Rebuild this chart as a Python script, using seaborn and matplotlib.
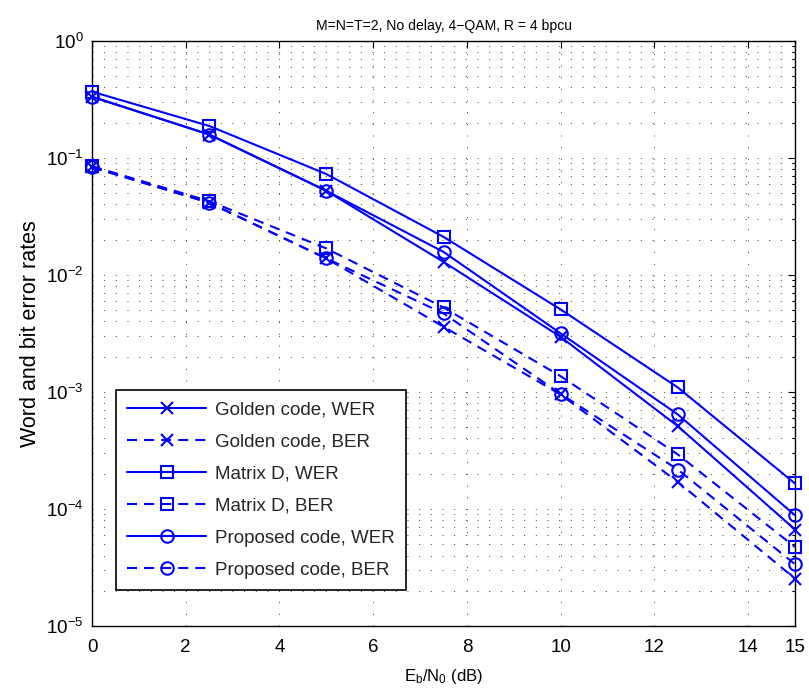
import numpy as np
import pandas as pd
import matplotlib
matplotlib.use("Agg")
import matplotlib.pyplot as plt
from matplotlib.ticker import LogLocator, FixedLocator, NullFormatter
import seaborn as sns

# ---- data ----
snr_db = [0, 2.5, 5, 7.5, 10, 12.5, 15]
golden_wer = [0.332, 0.158, 0.0522, 0.0129, 0.00295, 5.09e-4, 6.67e-5]
golden_ber = [0.083, 0.0413, 0.0138, 0.0036, 0.00095, 1.70e-4, 2.54e-5]
matrixd_wer = [0.367, 0.187, 0.0726, 0.0211, 0.00506, 0.00109, 1.65e-4]
matrixd_ber = [0.0847, 0.0426, 0.0168, 0.00526, 0.00136, 2.92e-4, 4.73e-5]
proposed_wer = [0.332, 0.158, 0.0522, 0.0157, 0.00316, 6.41e-4, 8.83e-5]
proposed_ber = [0.083, 0.0413, 0.0138, 0.00468, 0.00096, 2.17e-4, 3.37e-5]

series_labels = ["Golden code, WER", "Golden code, BER", "Matrix D, WER",
                 "Matrix D, BER", "Proposed code, WER", "Proposed code, BER"]
series_values = [golden_wer, golden_ber, matrixd_wer, matrixd_ber, proposed_wer, proposed_ber]
xtick_values = [0, 2, 4, 6, 8, 10, 12, 14, 15]
title_text = "M=N=T=2, No delay, 4\u2212QAM, R = 4 bpcu"
xlabel_text = r"E$_\mathregular{b}$/N$_\mathregular{0}$ (dB)"
ylabel_text = "Word and bit error rates"

sns.set_theme(style="white")

fam = "Liberation Sans"
plt.rcParams["font.family"] = [fam, "DejaVu Sans"]
plt.rcParams["mathtext.fontset"] = "custom"
plt.rcParams["mathtext.rm"] = fam
plt.rcParams["mathtext.it"] = fam
plt.rcParams["mathtext.bf"] = fam
plt.rcParams["mathtext.sf"] = fam
plt.rcParams["axes.unicode_minus"] = True

fig = plt.figure(figsize=(8.09, 7.0), dpi=100)
fig.patch.set_facecolor("white")
ax = fig.add_axes([92 / 809, 1 - 626 / 700, (795 - 92) / 809, (626 - 40.7) / 700])

markers = ["x", "x", "s", "s", "o", "o"]
msizes = [8, 8, 8.5, 8.5, 9, 9]
dash_style = (0, (4.8, 3.4))

for lab, vals, mk, ms in zip(series_labels, series_values, markers, msizes):
    df = pd.DataFrame({"snr": snr_db, "err": vals})
    ls = "-" if "WER" in lab else dash_style
    sns.lineplot(data=df, x="snr", y="err", ax=ax, color=(0, 0, 1), linewidth=1.5,
                 linestyle=ls, marker=mk, markersize=ms, markerfacecolor="none",
                 markeredgecolor=(0, 0, 1), markeredgewidth=1.5, label=lab,
                 estimator=None, sort=False, clip_on=False, zorder=3)

ax.set_yscale("log")
ax.set_xlim(0, 15)
ax.set_ylim(1e-5, 1)
ax.xaxis.set_major_locator(FixedLocator(xtick_values))
ax.set_xticklabels([str(v) for v in xtick_values])
ax.yaxis.set_major_locator(LogLocator(base=10, numticks=10))
ax.yaxis.set_minor_locator(LogLocator(base=10, subs=np.arange(2, 10), numticks=20))
ax.yaxis.set_minor_formatter(NullFormatter())

grid_ls = (0, (1, 11))
ax.grid(True, which="major", axis="both", color="0.25", linestyle=grid_ls, linewidth=0.7)
ax.grid(True, which="minor", axis="y", color="0.25", linestyle=grid_ls, linewidth=0.7)
ax.set_axisbelow(True)

for sp in ax.spines.values():
    sp.set_color("black")
    sp.set_linewidth(1.0)
    sp.set_visible(True)

ax.tick_params(which="both", direction="in", top=True, right=True, colors="black",
               labelsize=13.5, width=0.8)
ax.tick_params(which="major", length=5)
ax.tick_params(axis="x", which="major", pad=9)
ax.tick_params(axis="y", which="major", pad=6)
ax.tick_params(which="minor", length=2.5)

ax.set_title(title_text, fontsize=10.1, pad=8, color="black")
ax.set_xlabel(xlabel_text, fontsize=12, labelpad=8, color="black")
ax.set_ylabel(ylabel_text, fontsize=15.5, labelpad=4, color="black")

leg = ax.legend(loc="lower left", bbox_to_anchor=(0.034, 0.0615), borderaxespad=0,
                fontsize=13.5, handlelength=4.2, handletextpad=0.5,
                labelspacing=0.8, borderpad=0.6, fancybox=False, framealpha=1,
                edgecolor="black")
leg.get_frame().set_linewidth(1.2)
leg.set_zorder(5)

fig.savefig("out.png", dpi=100, facecolor="white")
